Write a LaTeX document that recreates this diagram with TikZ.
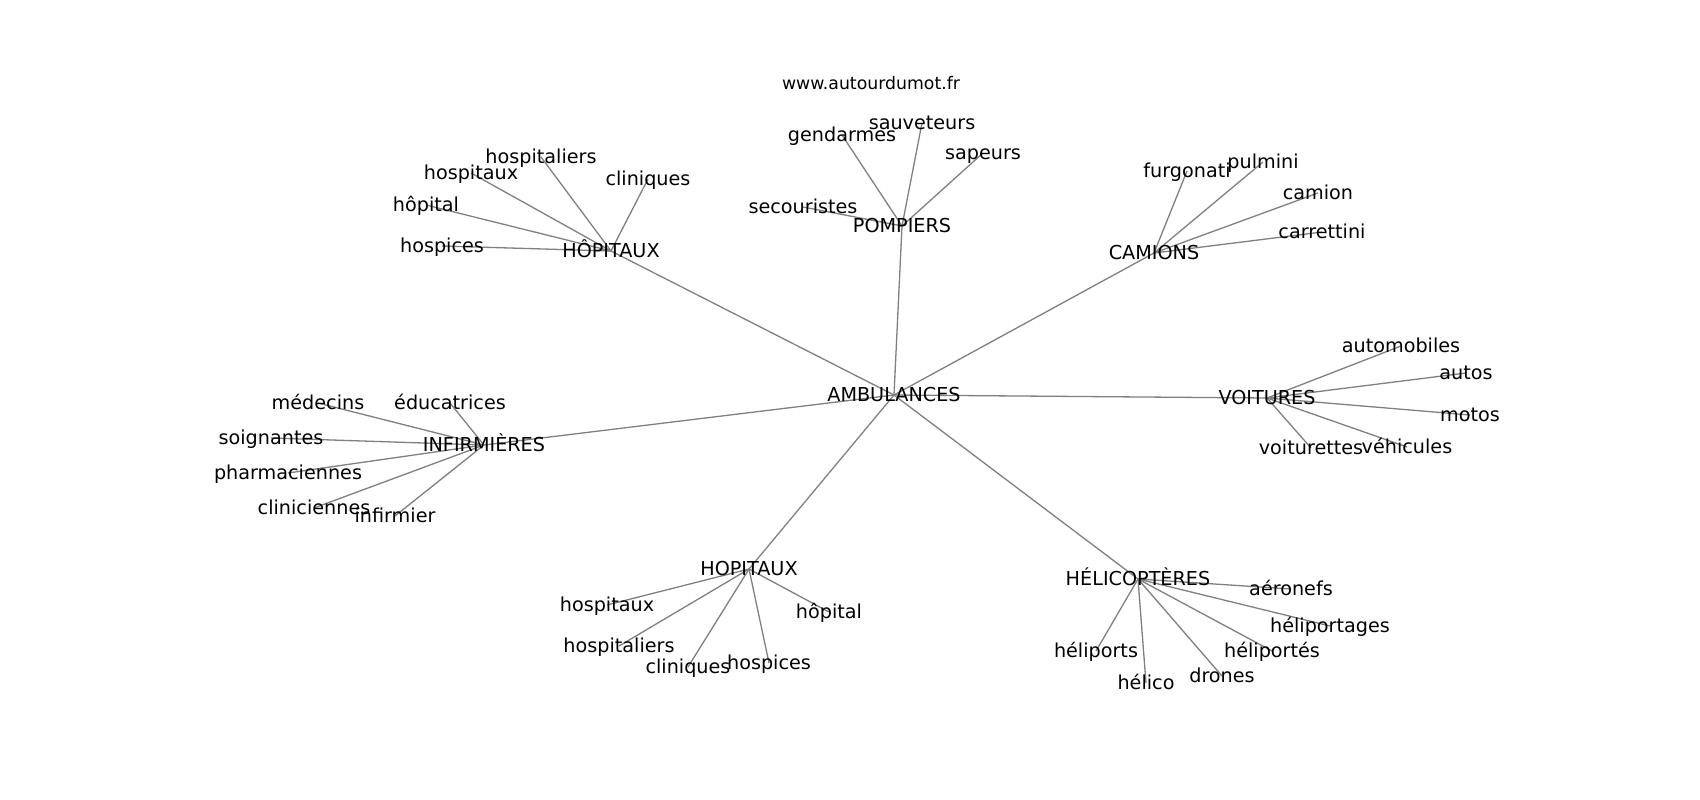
\documentclass[tikz,border=0pt]{standalone}
\usepackage{fontspec}
\setmainfont{DejaVu Sans}
\usetikzlibrary{backgrounds}
\begin{document}
\begin{tikzpicture}[x=1pt,y=-1pt,
  lbl/.style={inner sep=0pt,outer sep=0pt,anchor=center,text height=1.3em,text depth=0.1em,font=\fontsize{19.2}{23}\selectfont,text=black},
  ttl/.style={inner sep=0pt,anchor=center,text height=1.3em,text depth=0.1em,font=\fontsize{17.3}{21}\selectfont,text=black},
  edge/.style={draw=black!50,line width=1.3pt}]
\useasboundingbox (0,0) rectangle (1700,800);
\node[ttl] (title) at (871,83) {www.autourdumot.fr};
% hubs
\node[lbl] (amb) at (894,395) {AMBULANCES};
\node[lbl] (hopc) at (611,251) {HÔPITAUX};
\node[lbl] (pomp) at (902,226) {POMPIERS};
\node[lbl] (cam) at (1154,253) {CAMIONS};
\node[lbl] (voit) at (1267,398) {VOITURES};
\node[lbl] (heli) at (1138,579) {HÉLICOPTÈRES};
\node[lbl] (hops) at (749,569) {HOPITAUX};
\node[lbl] (inf) at (484,445) {INFIRMIÈRES};
% HÔPITAUX leaves
\node[lbl] (a1) at (541,157) {hospitaliers};
\node[lbl] (a2) at (471,173) {hospitaux};
\node[lbl] (a3) at (426,205) {hôpital};
\node[lbl] (a4) at (442,246) {hospices};
\node[lbl] (a5) at (648,179) {cliniques};
% POMPIERS leaves
\node[lbl] (b1) at (922,123) {sauveteurs};
\node[lbl] (b2) at (842,135) {gendarmes};
\node[lbl] (b3) at (983,153) {sapeurs};
\node[lbl] (b4) at (803,207) {secouristes};
% CAMIONS leaves
\node[lbl] (c1) at (1187,171) {furgonati};
\node[lbl] (c2) at (1263,162) {pulmini};
\node[lbl] (c3) at (1318,193) {camion};
\node[lbl] (c4) at (1322,232) {carrettini};
% VOITURES leaves
\node[lbl] (d1) at (1401,346) {automobiles};
\node[lbl] (d2) at (1466,373) {autos};
\node[lbl] (d3) at (1470,415) {motos};
\node[lbl] (d4) at (1311,448) {voiturettes};
\node[lbl] (d5) at (1407,447) {véhicules};
% HÉLICOPTÈRES leaves
\node[lbl] (e1) at (1291,589) {aéronefs};
\node[lbl] (e2) at (1330,626) {héliportages};
\node[lbl] (e3) at (1096,651) {héliports};
\node[lbl] (e4) at (1272,651) {héliportés};
\node[lbl] (e5) at (1146,683) {hélico};
\node[lbl] (e6) at (1222,676) {drones};
% HOPITAUX leaves
\node[lbl] (f1) at (607,605) {hospitaux};
\node[lbl] (f2) at (829,612) {hôpital};
\node[lbl] (f3) at (619,646) {hospitaliers};
\node[lbl] (f4) at (688,667) {cliniques};
\node[lbl] (f5) at (769,663) {hospices};
% INFIRMIÈRES leaves
\node[lbl] (g1) at (318,403) {médecins};
\node[lbl] (g2) at (450,403) {éducatrices};
\node[lbl] (g3) at (271,438) {soignantes};
\node[lbl] (g4) at (288,473) {pharmaciennes};
\node[lbl] (g5) at (314,508) {cliniciennes};
\node[lbl] (g6) at (395,516) {infirmier};
\begin{scope}[on background layer]
\fill[white] (0,0) rectangle (1700,800);
\foreach \h in {hopc,pomp,cam,voit,heli,hops,inf}
  \draw[edge] (amb.center) -- (\h.center);
\foreach \l in {a1,a2,a3,a4,a5} \draw[edge] (hopc.center) -- (\l.center);
\foreach \l in {b1,b2,b3,b4} \draw[edge] (pomp.center) -- (\l.center);
\foreach \l in {c1,c2,c3,c4} \draw[edge] (cam.center) -- (\l.center);
\foreach \l in {d1,d2,d3,d4,d5} \draw[edge] (voit.center) -- (\l.center);
\foreach \l in {e1,e2,e3,e4,e5,e6} \draw[edge] (heli.center) -- (\l.center);
\foreach \l in {f1,f2,f3,f4,f5} \draw[edge] (hops.center) -- (\l.center);
\foreach \l in {g1,g2,g3,g4,g5,g6} \draw[edge] (inf.center) -- (\l.center);
\end{scope}
\end{tikzpicture}
\end{document}
